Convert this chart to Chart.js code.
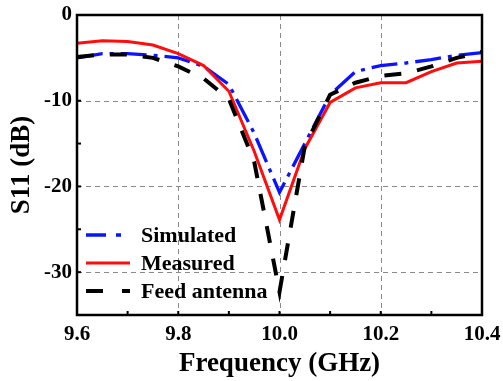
<!DOCTYPE html>
<html>
<head>
<meta charset="utf-8">
<script src="https://cdn.jsdelivr.net/npm/chart.js@4/dist/chart.umd.min.js"></script>
<style>
html,body{margin:0;padding:0;background:#fff;}
#wrap{width:503px;height:381px;}
</style>
</head>
<body>
<div id="wrap"><canvas id="c" width="503" height="381"></canvas></div>
<script>
const freqs = [9.6, 9.65, 9.7, 9.75, 9.8, 9.85, 9.9, 9.95, 10.0, 10.05, 10.1, 10.15, 10.2, 10.25, 10.3, 10.35, 10.4];
const simulated = [-5.0, -4.5, -4.5, -4.7, -5.0, -6.0, -8.1, -13.8, -20.7, -15.0, -9.3, -6.6, -5.9, -5.6, -5.2, -4.7, -4.4];
const measured  = [-3.3, -3.0, -3.1, -3.5, -4.5, -5.9, -8.9, -15.9, -23.9, -15.6, -10.2, -8.5, -7.9, -7.9, -6.6, -5.6, -5.4];
const feed      = [-4.9, -4.6, -4.6, -5.0, -6.0, -7.4, -9.8, -17.1, -32.3, -15.3, -9.3, -7.9, -7.1, -6.8, -6.0, -5.0, -4.3];
const seriesNames = ['Simulated', 'Measured', 'Feed antenna'];
const xMajor = [9.6, 9.8, 10.0, 10.2, 10.4];
const yMajor = [0, -10, -20, -30];

const FONT = '"Liberation Serif", "Times New Roman", serif';
const isIn = (arr, v) => arr.some(a => Math.abs(a - v) < 1e-6);

const frame = {
  id: 'frame',
  beforeDatasetsDraw(chart) {
    const {ctx, chartArea: a, scales: {x, y}} = chart;
    ctx.save();
    ctx.strokeStyle = '#8a8a8a';
    ctx.lineWidth = 1;
    ctx.setLineDash([5, 4]);
    x.ticks.forEach(t => {
      if (isIn(xMajor, t.value) && t.value > x.min + 1e-6 && t.value < x.max - 1e-6) {
        const px = Math.round(x.getPixelForValue(t.value)) + 0.5;
        ctx.beginPath(); ctx.moveTo(px, a.top); ctx.lineTo(px, a.bottom); ctx.stroke();
      }
    });
    y.ticks.forEach(t => {
      if (isIn(yMajor, t.value) && t.value > y.min + 1e-6 && t.value < y.max - 1e-6) {
        const py = Math.round(y.getPixelForValue(t.value)) + 0.5;
        ctx.beginPath(); ctx.moveTo(a.left, py); ctx.lineTo(a.right, py); ctx.stroke();
      }
    });
    ctx.restore();
  },
  afterDatasetsDraw(chart) {
    const {ctx, chartArea: a, scales: {x, y}} = chart;
    ctx.save();
    ctx.strokeStyle = '#000';
    ctx.lineWidth = 2;
    ctx.setLineDash([]);
    x.ticks.forEach(t => {
      const px = x.getPixelForValue(t.value);
      ctx.beginPath(); ctx.moveTo(px, a.bottom); ctx.lineTo(px, a.bottom - 4); ctx.stroke();
    });
    y.ticks.forEach(t => {
      const py = y.getPixelForValue(t.value);
      ctx.beginPath(); ctx.moveTo(a.left, py); ctx.lineTo(a.left + 4, py); ctx.stroke();
    });
    ctx.lineWidth = 2.5;
    ctx.strokeRect(a.left, a.top, a.right - a.left, a.bottom - a.top);
    const lx0 = a.left + 9, lx1 = a.left + 53, tx = a.left + 64;
    const rowY = [235, 263, 291];
    ctx.font = 'bold 22px ' + FONT;
    ctx.textBaseline = 'middle';
    ctx.fillStyle = '#000';
    chart.data.datasets.forEach((ds, i) => {
      const yy = rowY[i];
      ctx.strokeStyle = ds.borderColor;
      ctx.lineWidth = ds.borderWidth;
      ctx.setLineDash(ds.legendDash || []);
      ctx.beginPath(); ctx.moveTo(lx0, yy); ctx.lineTo(lx1, yy); ctx.stroke();
      ctx.setLineDash([]);
      ctx.fillText(ds.label, tx, yy + 1);
    });
    ctx.restore();
  }
};

new Chart(document.getElementById('c'), {
  type: 'line',
  data: {
    datasets: [
      {label: seriesNames[0], data: freqs.map((f, i) => ({x: f, y: simulated[i]})), borderColor: '#0a14ff', borderWidth: 3.3, borderDash: [26, 7, 4, 7], legendDash: [20, 10, 5, 20], pointRadius: 0, tension: 0, order: 2},
      {label: seriesNames[1], data: freqs.map((f, i) => ({x: f, y: measured[i]})), borderColor: '#ff0d0d', borderWidth: 3, pointRadius: 0, tension: 0, order: 1},
      {label: seriesNames[2], data: freqs.map((f, i) => ({x: f, y: feed[i]})), borderColor: '#000', borderWidth: 4, borderDash: [17, 16], legendDash: [17, 19], pointRadius: 0, tension: 0, order: 0}
    ]
  },
  options: {
    responsive: false,
    animation: false,
    devicePixelRatio: 1,
    layout: {autoPadding: false, padding: {left: 0, right: 21, top: 15, bottom: 0}},
    plugins: {legend: {display: false}, tooltip: {enabled: false}},
    scales: {
      x: {
        type: 'linear', min: 9.6, max: 10.4,
        grid: {display: false, drawTicks: false},
        border: {display: false},
        ticks: {
          stepSize: 0.1, autoSkip: false, maxRotation: 0, padding: 7,
          color: '#000', font: {family: FONT, size: 21, weight: 'bold'},
          callback: v => isIn(xMajor, v) ? Number(v).toFixed(1) : ''
        },
        title: {display: true, text: 'Frequency (GHz)', color: '#000', font: {family: FONT, size: 27, weight: 'bold'}, padding: {top: 0, bottom: 1}},
        afterFit: s => { s.height = 66; s.paddingLeft = 0; s.paddingRight = 0; }
      },
      y: {
        type: 'linear', min: -35, max: 0,
        grid: {display: false, drawTicks: false},
        border: {display: false},
        ticks: {
          stepSize: 5, autoSkip: false, padding: 5,
          color: '#000', font: {family: FONT, size: 21, weight: 'bold'},
          callback: v => isIn(yMajor, v) ? String(v) : ''
        },
        title: {display: true, text: 'S11 (dB)', color: '#000', font: {family: FONT, size: 27, weight: 'bold'}, padding: {top: 6, bottom: 0}},
        afterFit: s => { s.width = 77; s.paddingTop = 0; s.paddingBottom = 0; }
      }
    }
  },
  plugins: [frame]
});
</script>
</body>
</html>
